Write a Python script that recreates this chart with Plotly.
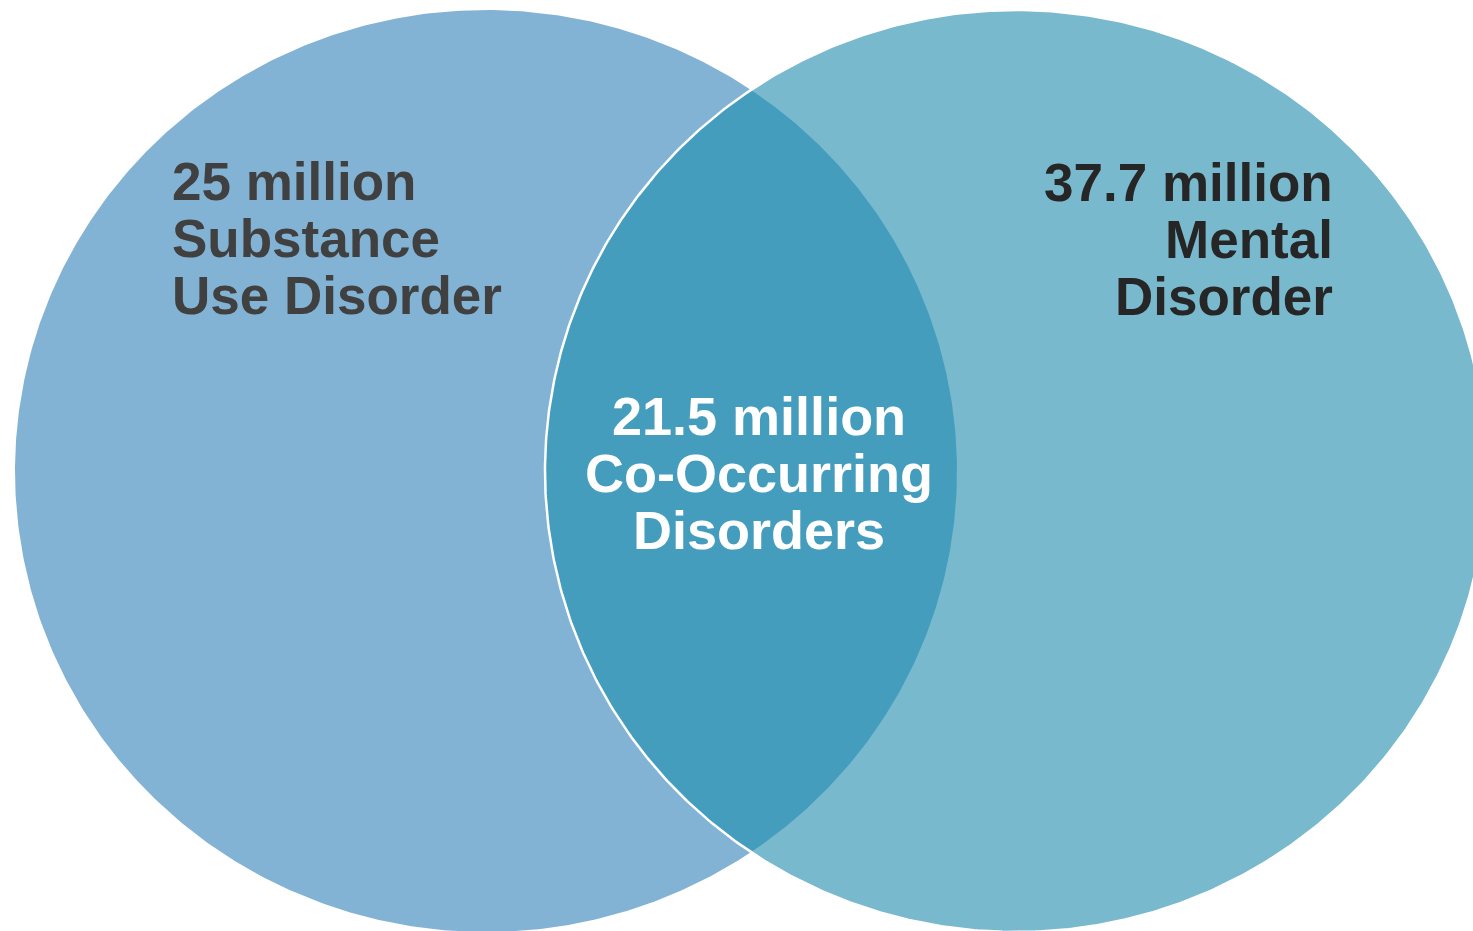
import numpy as np
import plotly.graph_objects as go

# ---- data ----
set_labels = ["Substance\nUse Disorder", "Mental\nDisorder", "Co-Occurring\nDisorders"]
set_values = [25, 37.7, 21.5]          # millions
value_unit = "million"

# ---- geometry / style (pixel coordinates) ----
W, H = 1473, 931
RX, RY = 471, 461
centers = [(486, 471), (1016, 471)]
fill_colors = ["#83B3D4", "#78B9CD", "#459DBE"]
text_colors = ["#404040", "#262626", "#FFFFFF"]
FONT = "Liberation Sans, Arial, sans-serif"
font_sizes = [53, 53, 54]
LINE_GAP = 57

def ellipse(cx, cy, n=720):
    t = np.linspace(0, 2 * np.pi, n)
    return cx + RX * np.cos(t), cy + RY * np.sin(t)

fig = go.Figure()
for (cx, cy), col in zip(centers, fill_colors[:2]):
    x, y = ellipse(cx, cy)
    fig.add_trace(go.Scatter(x=x, y=y, fill="toself", fillcolor=col, mode="lines",
                             line=dict(width=0, color=col), hoverinfo="skip", showlegend=False))

# lens (intersection)
d = centers[1][0] - centers[0][0]
th = np.arccos((d / 2) / RX)
t1 = np.linspace(-th, th, 300)
t2 = np.linspace(np.pi - th, np.pi + th, 300)
lx = np.concatenate([centers[0][0] + RX * np.cos(t1), centers[1][0] + RX * np.cos(t2)])
ly = np.concatenate([centers[0][1] + RY * np.sin(t1), centers[1][1] + RY * np.sin(t2)])
fig.add_trace(go.Scatter(x=lx, y=ly, fill="toself", fillcolor=fill_colors[2], mode="lines",
                         line=dict(width=0, color=fill_colors[2]), hoverinfo="skip", showlegend=False))
# white outline of right circle
x, y = ellipse(*centers[1])
fig.add_trace(go.Scatter(x=x, y=y, mode="lines", line=dict(width=2.5, color="white"),
                         hoverinfo="skip", showlegend=False))

def fmt(v):
    return f"{v:g} {value_unit}"

text_specs = [
    (170, 199, "left"),
    (1335, 200, "right"),
    (759, 434, "center"),
]
for i, (tx, base, align) in enumerate(text_specs):
    lines = [fmt(set_values[i])] + set_labels[i].split("\n")
    for j, ln in enumerate(lines):
        fig.add_annotation(x=tx, y=base + j * LINE_GAP - 18, text=f"<b>{ln}</b>",
                           showarrow=False, xanchor=align, yanchor="middle",
                           font=dict(family=FONT, size=font_sizes[i], color=text_colors[i]))

fig.update_layout(
    width=W, height=H, margin=dict(l=0, r=0, t=0, b=0),
    paper_bgcolor="white", plot_bgcolor="white",
    xaxis=dict(range=[0, W], visible=False, fixedrange=True),
    yaxis=dict(range=[H, 0], visible=False, fixedrange=True),
    showlegend=False,
)
fig.write_html("out.html", config={"displayModeBar": False},
               post_script="document.body.style.margin='0';document.body.style.overflow='hidden';")
